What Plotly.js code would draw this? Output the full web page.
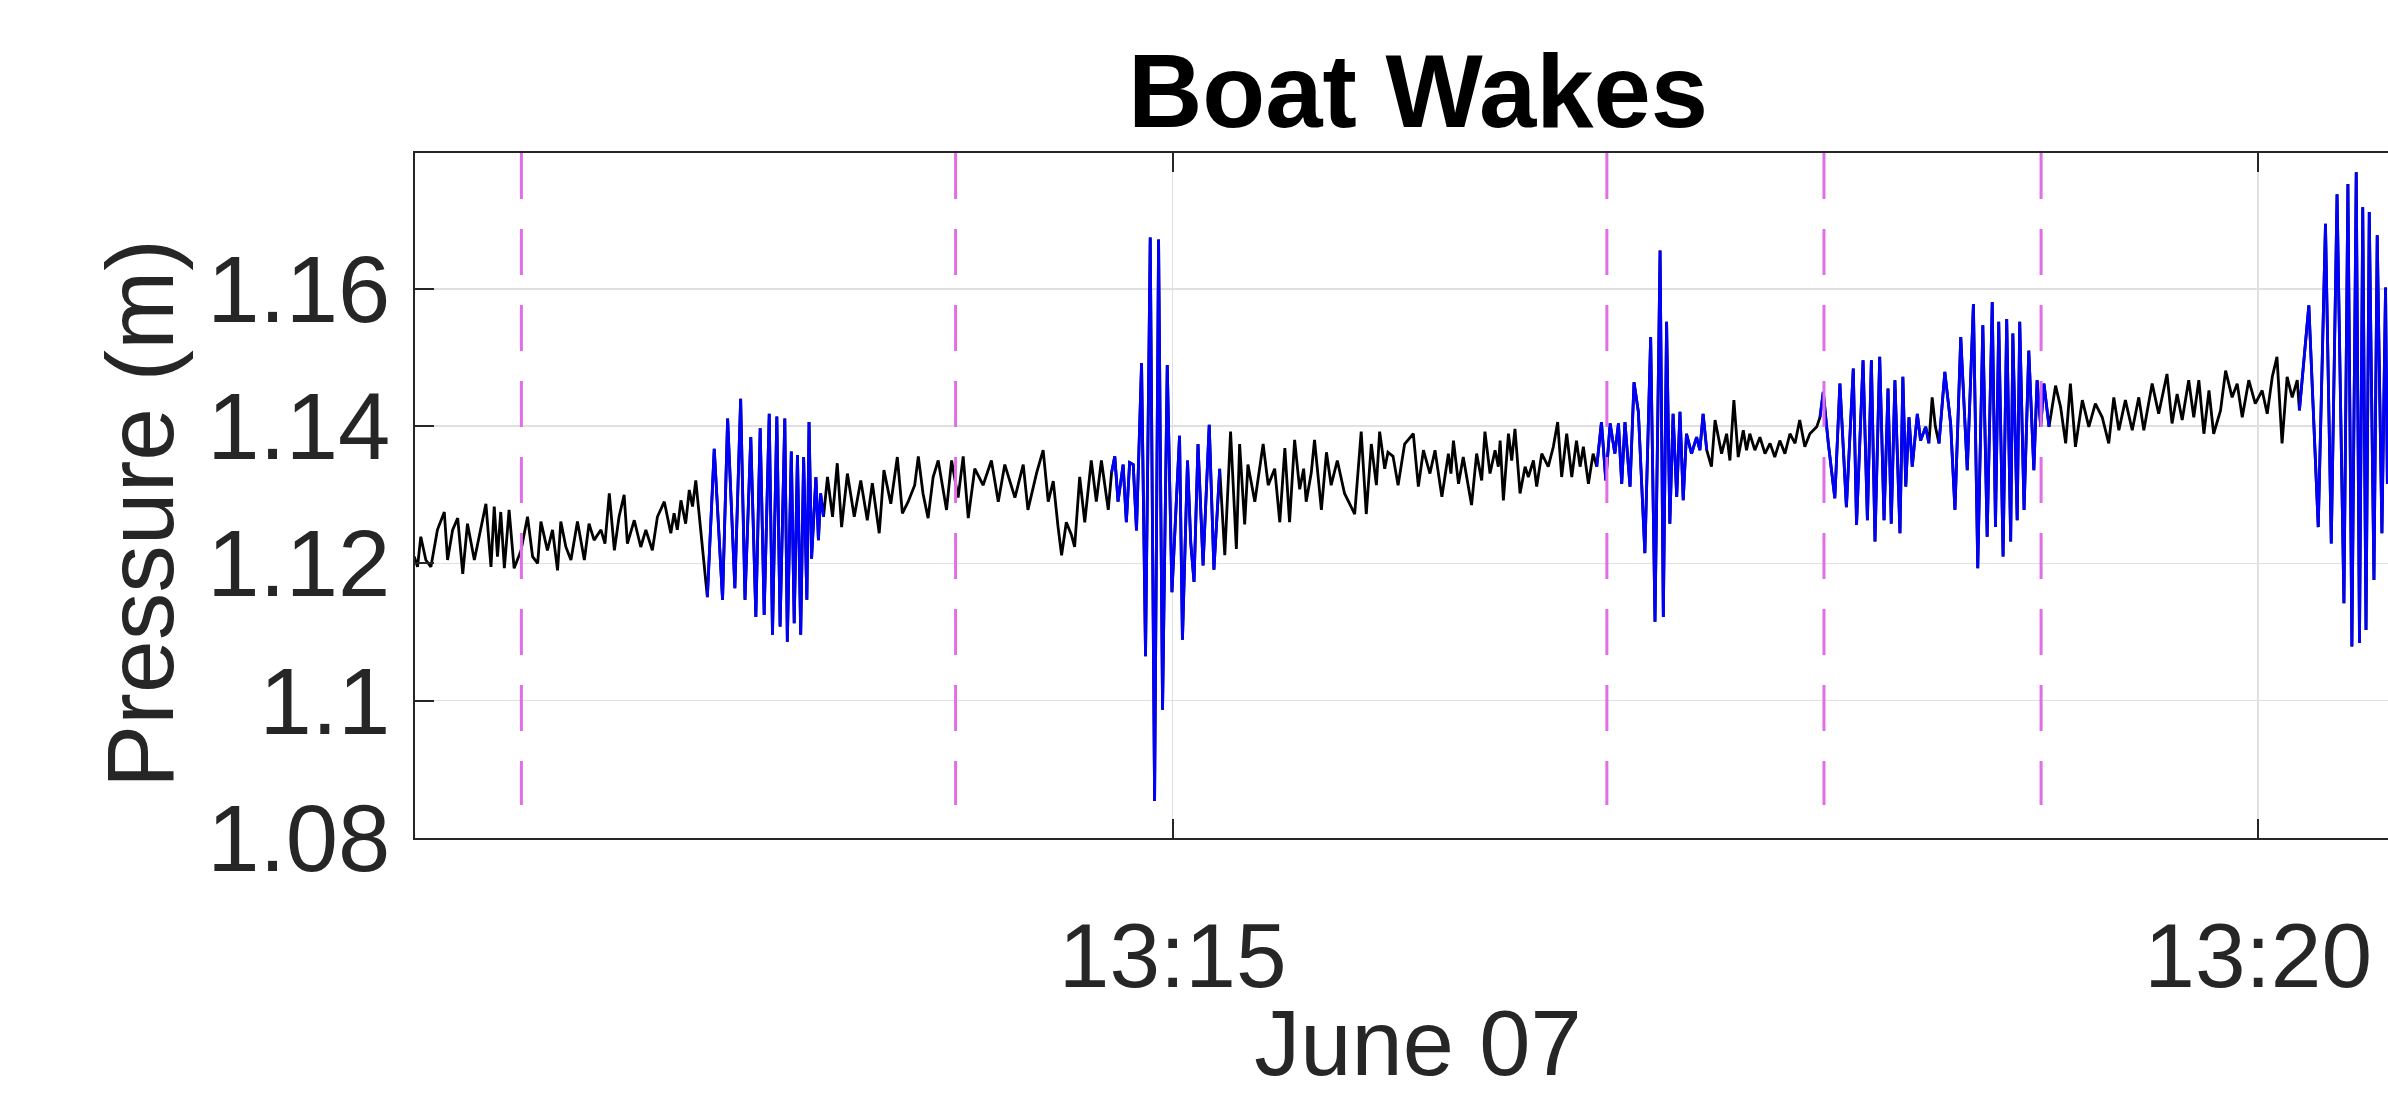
<!DOCTYPE html>
<html>
<head>
<meta charset="utf-8">
<script src="https://cdn.plot.ly/plotly-3.0.1.min.js"></script>
<style>
  html, body { margin: 0; padding: 0; background: #fff; overflow: hidden; }
  #chart { width: 2500px; height: 1094px; }
</style>
</head>
<body>
<div id="chart"></div>
<script>
// Seconds after 2019-06-07 13:11:00 for each sample
const sampleSeconds = [
  30.4,31.3,32.2,33.6,35.0,36.8,38.7,39.6,41.0,42.4,43.8,45.1,47.0,48.8,50.2,51.6,52.5,53.4,54.3,55.3,
  56.6,58.0,59.9,61.7,63.1,64.5,65.4,67.2,68.6,70.0,70.9,72.3,73.7,75.5,77.4,78.7,80.1,82.0,83.1,84.3,
  85.7,87.0,88.4,89.3,91.2,93.0,94.4,96.2,97.6,99.5,101.3,102.2,103.1,104.1,105.4,106.4,107.3,108.2,109.6,111.4,
  113.3,115.6,117.0,119.0,120.6,121.8,123.4,124.8,126.0,127.1,128.5,129.4,130.6,131.5,132.8,133.5,134.6,135.4,136.3,137.2,
  138.0,138.9,139.5,140.2,141.4,142.1,142.7,143.5,
  144.6,146.0,147.3,148.5,150.1,152.0,153.8,155.6,157.0,158.9,160.2,162.1,163.9,165.3,
  166.9,168.7,169.7,171.0,172.4,173.8,175.2,177.5,178.9,180.7,182.1,183.5,185.3,187.6,189.9,191.8,193.6,196.4,198.7,200.0,
  202.4,204.2,205.6,207.0,208.3,209.3,210.6,212.0,212.9,214.3,215.7,217.5,218.9,220.3,222.2,223.1,
  224.0,224.9,226.3,227.2,228.1,229.1,230.0,231.4,232.5,233.8,235.0,236.1,237.2,238.5,239.8,241.0,241.9,242.7,244.1,245.0,
  245.9,247.0,248.4,250.1,251.4,253.0,
  254.4,256.0,257.6,258.5,259.9,260.8,262.7,265.0,266.4,268.2,269.6,271.0,272.3,273.7,275.1,276.2,276.9,278.3,279.2,281.1,
  282.5,283.8,285.5,287.5,290.3,292.1,293.5,294.9,296.3,297.2,298.6,299.5,300.9,302.3,304.1,
  306.5,307.9,309.3,311.1,312.5,314.4,316.2,316.9,317.6,319.0,320.3,322.6,324.0,325.4,326.3,327.7,329.1,330.0,330.5,331.4,
  332.8,333.7,334.6,336.0,337.4,338.3,339.7,340.6,342.0,343.8,345.2,346.4,347.5,348.9,350.3,351.6,352.6,353.5,354.9,356.2,357.2,
  358.5,359.7,360.9,362.2,363.2,364.1,365.0,366.4,367.5,368.7,370.5,372.1,373.3,374.7,375.6,376.5,377.4,378.3,379.3,380.2,
  381.1,382.0,383.4,384.8,385.7,386.6,387.6,
  388.9,389.9,391.7,393.1,394.0,395.1,396.3,397.7,398.6,399.5,400.9,402.3,403.7,405.1,406.4,407.8,409.2,410.6,412.0,413.3,
  414.7,416.1,418.0,418.9,
  419.8,421.2,423.0,424.4,426.2,428.1,429.0,430.8,432.0,433.1,434.1,435.4,436.6,437.7,438.6,439.6,441.0,441.8,442.6,443.5,
  444.4,445.8,446.7,448.1,449.0,
  449.9,450.8,451.8,
  453.4,455.0,456.2,457.8,459.6,461.3,462.5,463.9,465.1,466.5,467.4,468.3,469.5,470.5,471.6,472.2,473.4,474.1,475.3,476.6,
  478.0,478.9,479.9,480.8,482.2,
  484.0,485.4,486.8,488.1,489.5,491.4,493.2,495.0,496.9,498.7,500.1,501.5,503.3,505.2,507.0,508.4,510.7,512.5,514.8,516.2,
  517.6,519.0,520.8,522.2,523.6,525.0,526.4,527.7,529.6,531.0,532.8,534.2,535.6,537.4,539.2,541.1,542.5,543.9,545.2,546.6,
  548.0,549.4,550.8,551.4,
  554.0,556.6,558.6,560.2,561.8,563.7,564.8,565.9,567.1,568.0,568.9,569.8,570.7,572.0,572.9,574.2,575.2,575.7
];

// Pressure (m) at each sample
const pressure = [
  1.1210,1.1195,1.1239,1.1205,1.1195,1.1249,1.1275,1.1205,1.1249,1.1266,1.1185,1.1258,1.1205,1.1249,1.1287,1.1195,1.1283,1.1210,1.1275,1.1193,
  1.1278,1.1193,1.1219,1.1268,1.1210,1.1200,1.1261,1.1219,1.1249,1.1190,1.1261,1.1224,1.1205,1.1261,1.1205,1.1258,1.1234,1.1249,1.1229,1.1302,
  1.1219,1.1268,1.1300,1.1229,1.1263,1.1224,1.1249,1.1219,1.1268,1.1290,1.1244,1.1273,1.1249,1.1292,1.1258,1.1307,1.1283,1.1321,1.1249,1.1151,
  1.1367,1.1147,1.1411,1.1164,1.1440,1.1147,1.1384,1.1122,1.1397,1.1125,1.1418,1.1096,1.1414,1.1108,1.1411,1.1086,1.1363,1.1113,1.1358,1.1096,
  1.1355,1.1147,1.1406,1.1207,1.1326,1.1234,1.1302,1.1268,
  1.1326,1.1268,1.1346,1.1253,1.1331,1.1268,1.1321,1.1263,1.1317,1.1244,1.1336,1.1287,1.1355,1.1273,
  1.1290,1.1314,1.1356,1.1302,1.1266,1.1326,1.1350,1.1278,1.1350,1.1296,1.1356,1.1266,1.1338,1.1314,1.1350,1.1290,1.1344,1.1296,1.1344,1.1278,
  1.1332,1.1365,1.1290,1.1320,1.1254,1.1212,1.1260,1.1242,1.1224,1.1326,1.1260,1.1350,1.1290,1.1350,1.1278,1.1332,
  1.1356,1.1290,1.1344,1.1260,1.1347,1.1344,1.1248,1.1492,1.1065,1.1675,1.0854,1.1672,1.0987,1.1489,1.1158,1.1290,1.1386,1.1089,1.1350,1.1230,
  1.1173,1.1374,1.1197,1.1402,1.1191,1.1338,
  1.1212,1.1392,1.1221,1.1374,1.1257,1.1344,1.1290,1.1374,1.1314,1.1338,1.1260,1.1368,1.1260,1.1380,1.1308,1.1338,1.1290,1.1332,1.1380,1.1278,
  1.1362,1.1314,1.1350,1.1302,1.1272,1.1392,1.1272,1.1374,1.1314,1.1392,1.1338,1.1362,1.1356,1.1314,1.1374,
  1.1389,1.1312,1.1365,1.1331,1.1365,1.1297,1.1360,1.1331,1.1379,1.1316,1.1355,1.1285,1.1360,1.1321,1.1392,1.1331,1.1365,1.1341,1.1379,1.1292,
  1.1389,1.1350,1.1396,1.1302,1.1341,1.1326,1.1350,1.1312,1.1360,1.1341,1.1370,1.1406,1.1326,1.1389,1.1326,1.1379,1.1341,1.1370,1.1316,1.1360,1.1341,
  1.1406,1.1321,1.1404,1.1360,1.1404,1.1316,1.1406,1.1312,1.1464,1.1421,1.1215,1.1530,1.1115,1.1656,1.1122,1.1552,1.1258,1.1418,1.1297,1.1421,
  1.1292,1.1389,1.1360,1.1384,1.1365,1.1418,1.1365,
  1.1341,1.1409,1.1360,1.1389,1.1350,1.1438,1.1355,1.1394,1.1365,1.1389,1.1365,1.1384,1.1360,1.1375,1.1355,1.1379,1.1360,1.1389,1.1375,1.1409,
  1.1370,1.1389,1.1399,1.1413,
  1.1450,1.1375,1.1295,1.1462,1.1282,1.1484,1.1256,1.1496,1.1263,1.1496,1.1232,1.1501,1.1263,1.1455,1.1258,1.1467,1.1244,1.1472,1.1312,1.1413,
  1.1341,1.1418,1.1379,1.1399,1.1375,
  1.1442,1.1399,1.1375,
  1.1479,1.1404,1.1278,1.1530,1.1336,1.1578,1.1193,1.1547,1.1239,1.1581,1.1253,1.1552,1.1210,1.1556,1.1232,1.1535,1.1263,1.1552,1.1278,1.1510,
  1.1336,1.1467,1.1399,1.1462,1.1399,
  1.1459,1.1428,1.1375,1.1462,1.1370,1.1438,1.1399,1.1433,1.1413,1.1375,1.1442,1.1394,1.1438,1.1394,1.1442,1.1394,1.1462,1.1418,1.1476,1.1404,
  1.1447,1.1409,1.1467,1.1413,1.1467,1.1389,1.1452,1.1389,1.1423,1.1481,1.1442,1.1462,1.1413,1.1467,1.1433,1.1452,1.1418,1.1472,1.1501,1.1375,
  1.1472,1.1442,1.1467,1.1423,
  1.1576,1.1253,1.1695,1.1229,1.1738,1.1142,1.1753,1.1079,1.1770,1.1084,1.1719,1.1103,1.1712,1.1176,1.1678,1.1244,1.1602,1.1316
];

// Boat-wake windows (seconds after 13:11:00) drawn in blue
const wakeStart = [111.4, 223.1, 357.2, 418.9, 451.8, 551.4];
const wakeEnd   = [143.5, 253.0, 387.6, 449.0, 482.2, 575.7];

// Event marker times (dashed magenta lines)
const markerTimes = ['13:12:00', '13:14:00', '13:17:00', '13:18:00', '13:19:00'];

const dayStr = '2019-06-07';
const xTickTimes = ['13:15:00', '13:20:00'];
const xTickText = ['13:15', '13:20'];
const yTickVals = [1.08, 1.10, 1.12, 1.14, 1.16];
const yTickText = ['1.08', '1.1', '1.12', '1.14', '1.16'];

const xRange = ['13:11:30.6', '13:20:45'];
const yRange = [1.08, 1.1798];
const markerY = [1.1798, 1.0848];

function toStamp(sec) {
  const ms = Date.UTC(2019, 5, 7, 13, 11, 0) + Math.round(sec * 1000);
  return new Date(ms).toISOString().replace('T', ' ').replace('Z', '');
}

const xs = sampleSeconds.map(toStamp);
const inWake = sampleSeconds.map(s => wakeStart.some((a, i) => s >= a && s <= wakeEnd[i]));
const blueY = pressure.map((v, i) => inWake[i] ? v : null);

const FONT = '"Liberation Sans", Arial, Helvetica, sans-serif';
const TXT = '#262626';

const traces = [
  { x: xs, y: pressure, type: 'scatter', mode: 'lines',
    line: { color: '#000000', width: 2.8 }, hoverinfo: 'skip' },
  { x: xs, y: blueY, type: 'scatter', mode: 'lines', connectgaps: false,
    line: { color: '#0000ff', width: 2.8 }, hoverinfo: 'skip' }
];

const shapes = markerTimes.map(t => ({
  type: 'line', xref: 'x', yref: 'y',
  x0: dayStr + ' ' + t, x1: dayStr + ' ' + t,
  y0: markerY[0], y1: markerY[1],
  line: { color: 'rgb(226,110,230)', width: 3, dash: '46px,30px' },
  layer: 'above'
}));

const layout = {
  width: 2500, height: 1094, autosize: false,
  paper_bgcolor: '#ffffff', plot_bgcolor: '#ffffff',
  margin: { l: 415, r: 79, t: 153, b: 256 },
  showlegend: false,
  font: { family: FONT, color: TXT },
  title: {
    text: '<b>Boat Wakes</b>',
    font: { family: FONT, size: 103, color: '#000000' },
    x: 0.5, xref: 'paper', xanchor: 'center',
    y: 1 - 91 / 1094, yref: 'container', yanchor: 'middle'
  },
  xaxis: {
    type: 'date',
    range: [dayStr + ' ' + xRange[0], dayStr + ' ' + xRange[1]],
    tickmode: 'array',
    tickvals: xTickTimes.map(t => dayStr + ' ' + t),
    ticktext: xTickText,
    ticks: 'inside', ticklen: 19, tickwidth: 2, tickcolor: TXT,
    showline: true, linecolor: TXT, linewidth: 2, mirror: 'ticks',
    showgrid: true, gridcolor: '#e0e0e0', gridwidth: 1.5,
    zeroline: false,
    tickfont: { family: FONT, size: 91, color: TXT },
    ticklabelstandoff: 38,
    title: { text: 'June 07', font: { family: FONT, size: 92, color: TXT }, standoff: 38 }
  },
  yaxis: {
    range: yRange,
    tickmode: 'array', tickvals: yTickVals, ticktext: yTickText,
    ticks: 'inside', ticklen: 19, tickwidth: 2, tickcolor: TXT,
    showline: true, linecolor: TXT, linewidth: 2, mirror: 'ticks',
    showgrid: true, gridcolor: '#e0e0e0', gridwidth: 1.5,
    zeroline: false,
    tickfont: { family: FONT, size: 94, color: TXT },
    ticklabelstandoff: 4
  },
  annotations: [{
    text: 'Pressure (m)', textangle: -90, showarrow: false,
    xref: 'paper', yref: 'paper', x: 0, y: 0.473,
    xanchor: 'center', yanchor: 'middle', xshift: -275,
    font: { family: FONT, size: 95, color: TXT }
  }],
  shapes: shapes
};

Plotly.newPlot('chart', traces, layout, { staticPlot: true, displayModeBar: false });
</script>
</body>
</html>
